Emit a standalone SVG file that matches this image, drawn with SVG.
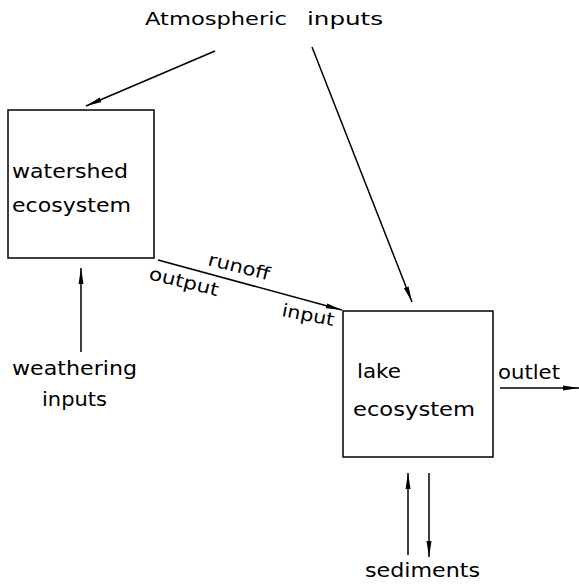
<svg xmlns="http://www.w3.org/2000/svg" width="579" height="584" viewBox="0 0 579 584">
<style>
text{font-family:"DejaVu Sans","Liberation Sans",sans-serif;fill:#000;}
.t{font-size:19px;}
.s{font-size:17px;}
.r{font-size:18px;}
.box{fill:#fff;stroke:#000;stroke-width:1.5;}
.c{stroke:#000;stroke-width:1.5;fill:none;}
</style>
<defs>
<marker id="ah" viewBox="0 0 16 6" refX="16" refY="3" markerWidth="16" markerHeight="6" markerUnits="userSpaceOnUse" orient="auto">
<path d="M0,0.5 L16,3 L0,5.5 Z" fill="#000"/>
</marker>
</defs>
<g id="atmospheric">
<text class="s" x="145" y="25" textLength="142" lengthAdjust="spacingAndGlyphs">Atmospheric</text>
<text class="s" x="307" y="25" textLength="76" lengthAdjust="spacingAndGlyphs">inputs</text>
</g>
<g id="watershed">
<rect class="box" x="8" y="110" width="146" height="148"/>
<text class="t" x="12" y="178" textLength="116" lengthAdjust="spacingAndGlyphs">watershed</text>
<text class="t" x="12" y="212" textLength="119" lengthAdjust="spacingAndGlyphs">ecosystem</text>
</g>
<g id="weathering">
<text class="t" x="12" y="375" textLength="125" lengthAdjust="spacingAndGlyphs">weathering</text>
<text class="t" x="42" y="406" textLength="65" lengthAdjust="spacingAndGlyphs">inputs</text>
</g>
<g id="lake">
<rect class="box" x="343" y="311" width="150" height="146"/>
<text class="t" x="357" y="378" textLength="44" lengthAdjust="spacingAndGlyphs">lake</text>
<text class="t" x="353" y="416" textLength="122" lengthAdjust="spacingAndGlyphs">ecosystem</text>
</g>
<g id="outlet">
<text class="t" x="498" y="379" textLength="62" lengthAdjust="spacingAndGlyphs">outlet</text>
</g>
<g id="sediments">
<text class="t" x="365" y="577" textLength="115" lengthAdjust="spacingAndGlyphs">sediments</text>
</g>
<g id="connectors">
<line class="c" x1="215" y1="51" x2="86" y2="106" marker-end="url(#ah)"/>
<line class="c" x1="312" y1="47" x2="412" y2="302" marker-end="url(#ah)"/>
<line class="c" x1="158" y1="260" x2="342" y2="310" marker-end="url(#ah)"/>
<line class="c" x1="81" y1="352" x2="81" y2="268" marker-end="url(#ah)"/>
<line class="c" x1="500" y1="388" x2="579" y2="388" marker-end="url(#ah)"/>
<line class="c" x1="408" y1="555" x2="408" y2="473" marker-end="url(#ah)"/>
<line class="c" x1="429" y1="473" x2="429" y2="557" marker-end="url(#ah)"/>
<text class="r" x="207" y="265" transform="rotate(14 207 265)" textLength="63" lengthAdjust="spacingAndGlyphs">runoff</text>
<text class="r" x="148" y="279" transform="rotate(14 148 279)" textLength="71" lengthAdjust="spacingAndGlyphs">output</text>
<text class="r" x="281" y="316" transform="rotate(11 281 316)" textLength="53" lengthAdjust="spacingAndGlyphs">input</text>
</g>
</svg>
